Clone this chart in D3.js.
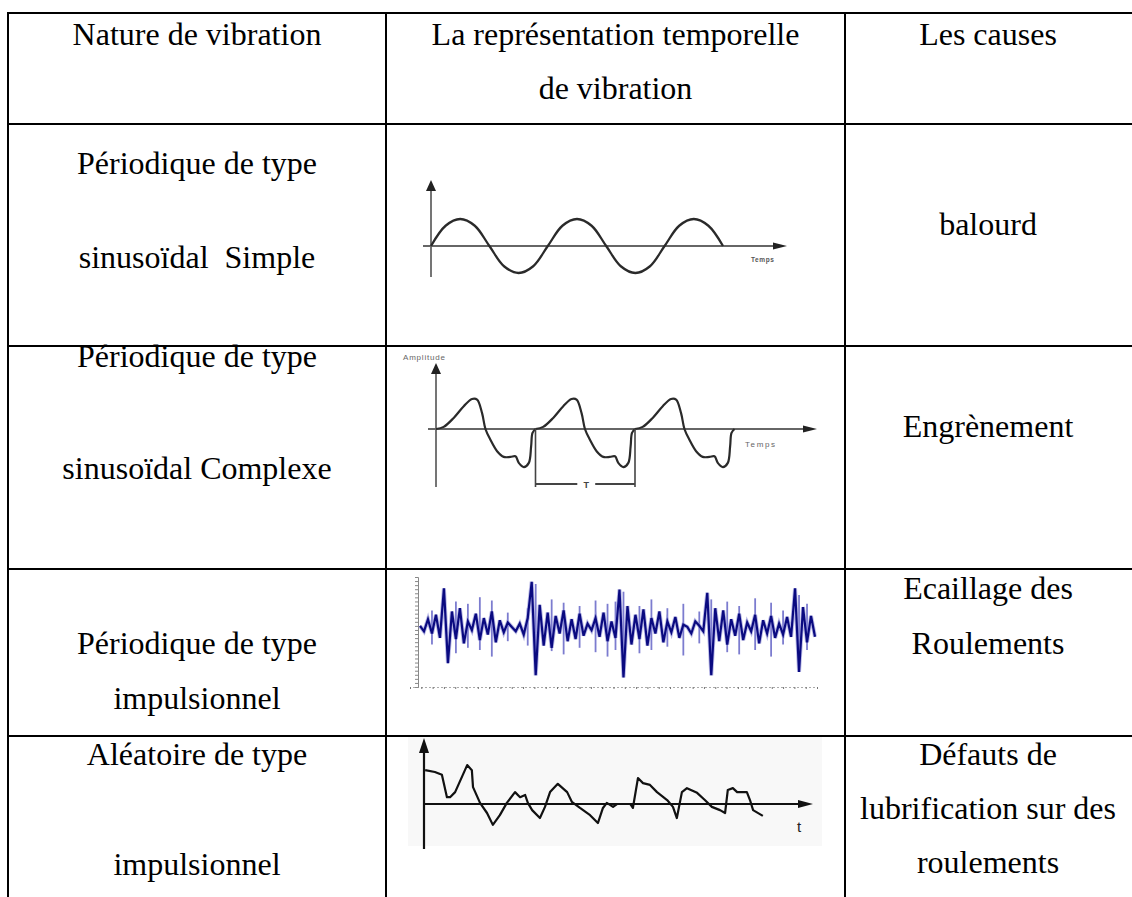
<!DOCTYPE html>
<html>
<head>
<meta charset="utf-8">
<script src="https://cdn.jsdelivr.net/npm/d3@7"></script>
<style>
  body { margin: 0; background: #fff; }
  .cell { font-family: "Liberation Serif", "Times New Roman", serif; font-size: 32px; fill: #000; white-space: pre; }
  .tiny { font-family: "Liberation Sans", Arial, sans-serif; }
</style>
</head>
<body>
<div id="chart"></div>
<script>
var width = 1132,
    height = 897;

// table text, one entry per cell
var headers = [["Nature de vibration"], ["La représentation temporelle", "de vibration"], ["Les causes"]];
var natures = [
    ["Périodique de type", "sinusoïdal  Simple"],
    ["Périodique de type", "sinusoïdal Complexe"],
    ["Périodique de type", "impulsionnel"],
    ["Aléatoire de type", "impulsionnel"]
];
var causes = [
    ["balourd"],
    ["Engrènement"],
    ["Ecaillage des", "Roulements"],
    ["Défauts de", "lubrification sur des", "roulements"]
];

// simple sine (time in periods, amplitude)
var sineT = [0, 0.125, 0.25, 0.375, 0.5, 0.625, 0.75, 0.875, 1, 1.125, 1.25, 1.375, 1.5, 1.625, 1.75, 1.875, 2, 2.125, 2.25, 2.375, 2.5];
var sineV = [0, 0.75, 1, 0.75, 0, -0.75, -1, -0.75, 0, 0.75, 1, 0.75, 0, -0.75, -1, -0.75, 0, 0.75, 1, 0.75, 0];

// one period of the complex periodic signal
var cycleT = [0, 0.077, 0.178, 0.279, 0.362, 0.413, 0.463, 0.497, 0.547, 0.614, 0.681, 0.748, 0.799, 0.832, 0.883, 0.933, 0.956, 0.97, 1];
var cycleV = [0, 0.07, 0.37, 0.76, 1, 0.98, 0.53, 0, -0.36, -0.74, -0.93, -0.93, -0.91, -1.13, -1.27, -1.13, -0.58, -0.13, 0];
var periods = [0, 1, 2];

// impulsive signal, 100 samples
var impulseV = [
    0.2, -0.3, 0.8, -0.5, 1.2, -0.9, 3.6, -3.2, 1.5, -1.0,
    1.8, -1.4, 0.6, -0.2, 1.3, -1.1, 0.9, -0.6, 1.5, -1.3,
    0.7, -0.4, 0.5, 0.1, -0.3, 0.4, -0.6, 0.9, 4.2, -4.3,
    2.1, -1.6, 1.4, -1.8, 1.1, -0.5, 1.6, -1.2, 0.8, -1.0,
    1.3, -0.7, 0.4, -0.2, 0.9, -0.8, 1.4, -1.2, 0.6, -0.9,
    3.5, -4.5, 2.0, -1.5, 1.2, -1.0, 1.7, -1.6, 0.9, -0.5,
    1.5, -1.3, 0.6, -0.4, 1.0, -0.9, 0.3, 0.1, -0.5, 0.6,
    0.2, -0.3, 3.2, -4.3, 1.8, -1.2, 1.6, -1.5, 0.8, -0.7,
    1.3, -1.1, 0.5, -0.3, 1.2, -1.4, 0.7, -0.5, 1.1, -0.9,
    0.4, -0.6, 1.0, -0.8, 3.6, -4.0, 1.9, -1.3, 1.1, -0.8
];
// light blue sticks: sample index, top, bottom
var stickIdx = [3, 9, 12, 15, 18, 22, 27, 29, 33, 36, 40, 44, 47, 49, 51, 55, 58, 62, 66, 70, 73, 77, 80, 84, 88, 91, 95, 97];
var stickHi = [1.6, 2.4, 2.2, 2.8, 2.5, 1.4, 1.8, 4.0, 2.6, 2.3, 2.0, 2.5, 2.2, 2.4, 3.3, 2.0, 2.6, 1.8, 2.2, 1.5, 2.6, 2.4, 2.0, 2.7, 2.3, 1.6, 3.0, 2.2];
var stickLo = [-1.5, -2.3, -1.8, -2.0, -2.6, -1.2, -1.6, -3.8, -2.1, -2.4, -1.8, -2.2, -2.6, -2.0, -4.2, -2.3, -2.0, -1.7, -2.5, -1.4, -3.9, -2.2, -2.4, -2.0, -2.6, -1.5, -3.7, -2.0];

// random signal (time 0..100, amplitude)
var randT = [0.3, 2.8, 4.6, 5.9, 6.7, 8.0, 11.1, 12.3, 12.6, 14.4, 16.2, 17.7, 19.5, 21.3, 23.4, 24.7, 26.0, 26.7, 27.8, 29.8,
    31.1, 32.4, 34.4, 36.8, 38.0, 40.1, 42.7, 44.7, 46.0, 47.0, 48.6, 49.6, 53.0, 53.7, 55.0, 56.3, 58.1, 59.9, 62.5, 64.0,
    65.0, 66.3, 67.6, 70.2, 72.2, 74.0, 76.1, 77.4, 78.1, 79.4, 80.5, 83.0, 83.8, 84.6, 87.1];
var randV = [0.94, 0.89, 0.81, 0.19, 0.19, 0.33, 1.08, 0.94, 0.47, 0.03, -0.25, -0.58, -0.31, 0.03, 0.33, 0.19, 0.25, 0.03, -0.17, -0.39,
    -0.08, 0.33, 0.56, 0.33, 0.06, -0.11, -0.31, -0.53, -0.11, 0.03, -0.08, 0, 0, -0.11, 0.72, 0.58, 0.53, 0.33, 0.11, -0.08,
    -0.39, 0.33, 0.44, 0.31, 0.11, -0.08, -0.17, -0.25, 0.39, 0.44, 0.33, 0.33, 0.11, -0.17, -0.33];

var rowEdges = [13, 124, 346, 569, 736];
var colEdges = [8, 386, 845, 1132];

var svg = d3.select("#chart").append("svg")
    .attr("width", width)
    .attr("height", height);

svg.append("rect").attr("width", width).attr("height", height).attr("fill", "#fff");

var grid = svg.append('g');
grid.selectAll(".hline")
    .data(rowEdges)
    .enter().append("line")
    .attr("x1", colEdges[0] - 1).attr("x2", width)
    .attr("y1", function(d) { return d; }).attr("y2", function(d) { return d; })
    .attr("stroke", "#000").attr("stroke-width", 2);
grid.selectAll(".vline")
    .data(colEdges.slice(0, 3))
    .enter().append("line")
    .attr("x1", function(d) { return d; }).attr("x2", function(d) { return d; })
    .attr("y1", rowEdges[0] - 1).attr("y2", height)
    .attr("stroke", "#000").attr("stroke-width", 2);

// text
var colX = [197, 615.5, 988];
function writeCell(lines, x, baselines) {
    lines.forEach(function(t, i) {
        svg.append("text")
            .attr("class", "cell")
            .attr("x", x)
            .attr("y", baselines[i])
            .attr("text-anchor", "middle")
            .text(t);
    });
}
writeCell(headers[0], colX[0], [45]);
writeCell(headers[1], colX[1], [45, 99]);
writeCell(headers[2], colX[2], [45]);

var natureY = [[174, 268], [367, 479], [654, 709], [765, 875]];
var causeY = [[235], [437], [599, 654], [765, 819, 873]];
natures.forEach(function(d, i) { writeCell(d, colX[0], natureY[i]); });
causes.forEach(function(d, i) { writeCell(d, colX[2], causeY[i]); });

function arrowHead(g, tipX, tipY, dir, len, half, color) {
    var pts;
    if (dir === "up") pts = [[tipX, tipY], [tipX - half, tipY + len], [tipX + half, tipY + len]];
    else pts = [[tipX, tipY], [tipX - len, tipY - half], [tipX - len, tipY + half]];
    g.append("path").attr("d", "M" + pts.join("L") + "Z").attr("fill", color);
}

// ---- picture 1 : sine
var p1 = svg.append('g');
var x1 = d3.scaleLinear().domain([0, 2.5]).range([431, 723]);
var y1 = d3.scaleLinear().domain([-1, 1]).range([273, 219]);
p1.append("line").attr("x1", 431).attr("x2", 431).attr("y1", 277).attr("y2", 188)
    .attr("stroke", "#666").attr("stroke-width", 1.8);
p1.append("line").attr("x1", 423).attr("x2", 778).attr("y1", y1(0)).attr("y2", y1(0))
    .attr("stroke", "#666").attr("stroke-width", 1.8);
arrowHead(p1, 431, 180, "up", 11, 5, "#222");
arrowHead(p1, 787, y1(0), "right", 14, 3.5, "#222");
p1.append("path")
    .datum(sineT.map(function(t, i) { return [t, sineV[i]]; }))
    .attr("d", d3.line().x(function(d) { return x1(d[0]); }).y(function(d) { return y1(d[1]); }).curve(d3.curveCatmullRom))
    .attr("fill", "none").attr("stroke", "#2a2a2a").attr("stroke-width", 2.3);
p1.append("text").attr("class", "tiny").attr("x", 751).attr("y", 262)
    .attr("font-size", 6.5).attr("font-weight", "bold").attr("letter-spacing", 0.6).attr("fill", "#555").text("Temps");

// ---- picture 2 : complex periodic
var p2 = svg.append('g');
var x2 = d3.scaleLinear().domain([0, 3]).range([436, 734.5]);
var y2 = d3.scaleLinear().domain([-1, 1]).range([459, 399]);
p2.append("line").attr("x1", 436).attr("x2", 436).attr("y1", 487).attr("y2", 372)
    .attr("stroke", "#666").attr("stroke-width", 1.8);
p2.append("line").attr("x1", 428).attr("x2", 808).attr("y1", y2(0)).attr("y2", y2(0))
    .attr("stroke", "#666").attr("stroke-width", 1.8);
arrowHead(p2, 436, 363, "up", 11, 5, "#222");
arrowHead(p2, 817, y2(0), "right", 14, 3.5, "#222");
var cycleLine = d3.line()
    .x(function(d) { return x2(d[0]); })
    .y(function(d) { return y2(d[1]); })
    .curve(d3.curveCatmullRom);
p2.selectAll(".cycle")
    .data(periods)
    .enter().append("path")
    .attr("d", function(k) { return cycleLine(cycleT.map(function(t, i) { return [k + t, cycleV[i]]; })); })
    .attr("fill", "none").attr("stroke", "#2a2a2a").attr("stroke-width", 2.2);
// period marker T
p2.selectAll(".tmark")
    .data([1, 2])
    .enter().append("line")
    .attr("x1", function(d) { return x2(d); }).attr("x2", function(d) { return x2(d); })
    .attr("y1", y2(0)).attr("y2", 487)
    .attr("stroke", "#444").attr("stroke-width", 1.6);
p2.append("line").attr("x1", x2(1)).attr("x2", x2(1.42)).attr("y1", 484).attr("y2", 484)
    .attr("stroke", "#444").attr("stroke-width", 1.8);
p2.append("line").attr("x1", x2(1.6)).attr("x2", x2(2)).attr("y1", 484).attr("y2", 484)
    .attr("stroke", "#444").attr("stroke-width", 1.8);
p2.append("text").attr("class", "tiny").attr("x", x2(1.51)).attr("y", 488).attr("text-anchor", "middle")
    .attr("font-size", 9).attr("font-weight", "bold").attr("fill", "#444").text("T");
p2.append("text").attr("class", "tiny").attr("x", 403).attr("y", 360)
    .attr("font-size", 8).attr("letter-spacing", 0.8).attr("fill", "#666").text("Amplitude");
p2.append("text").attr("class", "tiny").attr("x", 745).attr("y", 447)
    .attr("font-size", 8).attr("letter-spacing", 1.6).attr("fill", "#666").text("Temps");

// ---- picture 3 : impulsive
var p3 = svg.append('g');
var x3 = d3.scaleLinear().domain([0, 99]).range([420, 815]);
var y3 = d3.scaleLinear().domain([-5, 5]).range([683, 573]);
var bottomAxis = d3.axisBottom(d3.scaleLinear().domain([0, 36]).range([410, 817]))
    .ticks(36).tickSize(2).tickFormat("");
p3.append("g").attr("transform", "translate(0,687)").call(bottomAxis)
    .call(function(g) {
        g.select(".domain").attr("stroke", "#aaa").attr("stroke-dasharray", "2,2");
        g.selectAll(".tick line").attr("stroke", "#777");
    });
var leftAxis = d3.axisLeft(d3.scaleLinear().domain([0, 27]).range([687, 577]))
    .ticks(27).tickSize(3).tickFormat("");
p3.append("g").attr("transform", "translate(418,0)").call(leftAxis)
    .call(function(g) {
        g.select(".domain").attr("stroke", "#888");
        g.selectAll(".tick line").attr("stroke", "#888");
    });
p3.selectAll(".stick")
    .data(stickIdx)
    .enter().append("line")
    .attr("x1", function(d) { return x3(d); }).attr("x2", function(d) { return x3(d); })
    .attr("y1", function(d, i) { return y3(stickHi[i]); })
    .attr("y2", function(d, i) { return y3(stickLo[i]); })
    .attr("stroke", "#7c7ccf").attr("stroke-width", 1.8);
p3.append("path")
    .datum(impulseV)
    .attr("d", d3.line().x(function(d, i) { return x3(i); }).y(function(d) { return y3(d); }))
    .attr("fill", "none").attr("stroke", "#8a8ad6").attr("stroke-width", 4).attr("opacity", 0.6);
p3.append("path")
    .datum(impulseV)
    .attr("d", d3.line().x(function(d, i) { return x3(i); }).y(function(d) { return y3(d); }))
    .attr("fill", "none").attr("stroke", "#0a0a80").attr("stroke-width", 2.2);

// ---- picture 4 : random
var p4 = svg.append('g');
p4.append("rect").attr("x", 408).attr("y", 737).attr("width", 414).attr("height", 109).attr("fill", "#f8f8f8");
var x4 = d3.scaleLinear().domain([0, 100]).range([424, 813]);
var y4 = d3.scaleLinear().domain([-1, 1]).range([840, 768]);
p4.append("line").attr("x1", 424).attr("x2", 424).attr("y1", 849).attr("y2", 750)
    .attr("stroke", "#111").attr("stroke-width", 2.2);
p4.append("line").attr("x1", 424).attr("x2", 800).attr("y1", y4(0)).attr("y2", y4(0))
    .attr("stroke", "#111").attr("stroke-width", 2.2);
arrowHead(p4, 424, 738, "up", 15, 5, "#111");
arrowHead(p4, 813, y4(0), "right", 15, 4, "#111");
p4.append("path")
    .datum(randT.map(function(t, i) { return [t, randV[i]]; }))
    .attr("d", d3.line().x(function(d) { return x4(d[0]); }).y(function(d) { return y4(d[1]); }))
    .attr("fill", "none").attr("stroke", "#111").attr("stroke-width", 2.2).attr("stroke-linejoin", "round");
p4.append("text").attr("class", "tiny").attr("x", 797).attr("y", 832)
    .attr("font-size", 15).attr("fill", "#222").text("t");
</script>
</body>
</html>
